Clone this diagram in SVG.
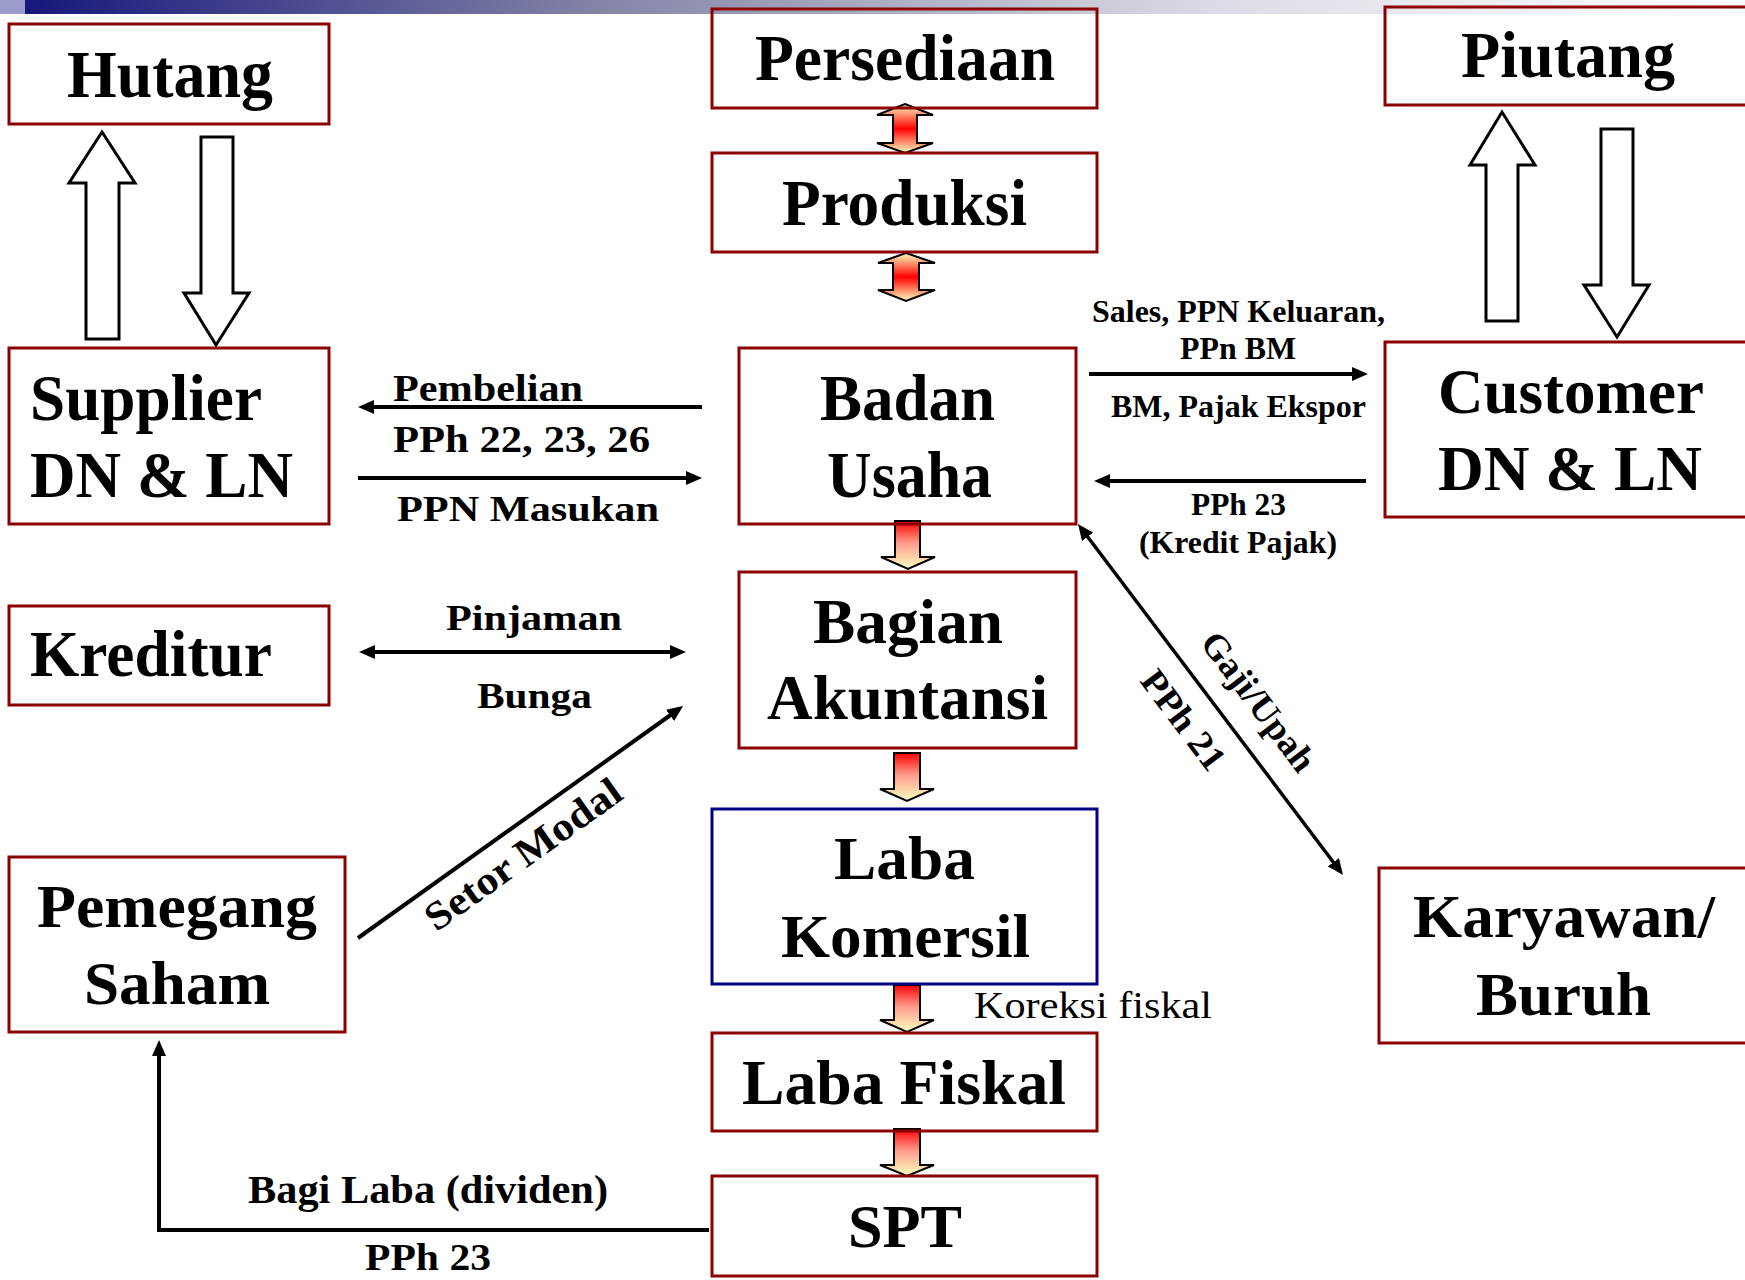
<svg xmlns="http://www.w3.org/2000/svg" width="1745" height="1280" viewBox="0 0 1745 1280">
  <style>
    .box { fill: none; stroke: #8b0000; stroke-width: 3; }
    .box.blue { stroke: #000080; }
    .t { font-family: "Liberation Serif", "Times New Roman", serif; font-weight: bold; fill: #000; }
    .big { font-size: 65px; }
    .lbl { font-size: 36px; }
    .sm { font-size: 32px; }
    .reg { font-weight: normal; }
    .mid { text-anchor: middle; }
    .line { fill: none; stroke: #000; stroke-width: 4; }
    .fat { stroke: #000; stroke-width: 2; stroke-linejoin: miter; }
    .hollow { fill: #fff; stroke: #000; stroke-width: 3; }
  </style>
  <defs>
    <linearGradient id="topbar" x1="0" y1="0" x2="1" y2="0">
      <stop offset="0" stop-color="#12127a"/>
      <stop offset="0.35" stop-color="#8686a8"/>
      <stop offset="0.7" stop-color="#dcdce6"/>
      <stop offset="1" stop-color="#ffffff"/>
    </linearGradient>
    <!-- fill for one-way fat arrows: red at the tail, cream at the head -->
    <linearGradient id="downFill" x1="0" y1="0" x2="0" y2="1">
      <stop offset="0" stop-color="#ff0000"/>
      <stop offset="0.45" stop-color="#ff9a8a"/>
      <stop offset="1" stop-color="#ffffc0"/>
    </linearGradient>
    <!-- fill for two-way fat arrows: cream at both heads, red in the middle -->
    <linearGradient id="bothFill" x1="0" y1="0" x2="0" y2="1">
      <stop offset="0" stop-color="#ffffc0"/>
      <stop offset="0.5" stop-color="#ff0000"/>
      <stop offset="1" stop-color="#ffffc0"/>
    </linearGradient>
    <marker id="head" viewBox="0 0 16 14" refX="11" refY="7" markerWidth="16" markerHeight="14" markerUnits="userSpaceOnUse" orient="auto-start-reverse">
      <path d="M0,0 L16,7 L0,14 Z" fill="#000"/>
    </marker>
  </defs>

  <!-- title bar -->
  <rect x="0" y="0" width="1745" height="14" fill="url(#topbar)"/>
  <rect x="0" y="0" width="25" height="14" fill="#9c9ccc"/>

  <!-- connectors -->
  <g id="connectors">
    <!-- fat arrows along the central column -->
    <path class="fat" fill="url(#bothFill)" d="M905,104 L933,115 L917,115 L917,143 L933,143 L905,153 L877,143 L893,143 L893,115 L877,115 Z"/>
    <path class="fat" fill="url(#bothFill)" d="M906,253 L935,263 L919,263 L919,290 L935,290 L906,301 L878,290 L893,290 L893,263 L878,263 Z"/>
    <path class="fat" fill="url(#downFill)" d="M895,521 L920,521 L920,557 L935,557 L908,569 L881,557 L895,557 Z"/>
    <path class="fat" fill="url(#downFill)" d="M894,753 L920,753 L920,789 L934,789 L907,801 L880,789 L894,789 Z"/>
    <path class="fat" fill="url(#downFill)" d="M894,985 L920,985 L920,1020 L934,1020 L907,1032 L880,1020 L894,1020 Z"/>
    <path class="fat" fill="url(#downFill)" d="M894,1129 L920,1129 L920,1165 L934,1165 L907,1176 L880,1165 L894,1165 Z"/>

    <!-- hollow arrows: Hutang / Supplier -->
    <path class="hollow" d="M86,339 L86,183 L69,183 L102,132 L135,183 L119,183 L119,339 Z"/>
    <path class="hollow" d="M201,137 L233,137 L233,293 L249,293 L216,345 L184,293 L201,293 Z"/>
    <!-- hollow arrows: Piutang / Customer -->
    <path class="hollow" d="M1486,321 L1486,165 L1470,165 L1502,112 L1535,165 L1518,165 L1518,321 Z"/>
    <path class="hollow" d="M1601,129 L1633,129 L1633,285 L1649,285 L1617,337 L1584,285 L1601,285 Z"/>

    <!-- Supplier flows -->
    <line class="line" x1="702" y1="407" x2="363" y2="407" marker-end="url(#head)"/>
    <line class="line" x1="358" y1="478" x2="697" y2="478" marker-end="url(#head)"/>
    <!-- Kreditur flow -->
    <line class="line" x1="364" y1="652" x2="681" y2="652" marker-start="url(#head)" marker-end="url(#head)"/>
    <!-- Customer flows -->
    <line class="line" x1="1089" y1="374" x2="1363" y2="374" marker-end="url(#head)"/>
    <line class="line" x1="1366" y1="481" x2="1099" y2="481" marker-end="url(#head)"/>
    <!-- Karyawan flow -->
    <line class="line" style="stroke-width:3.5" x1="1081" y1="528" x2="1340" y2="871" marker-start="url(#head)" marker-end="url(#head)"/>
    <!-- Pemegang Saham flows -->
    <line class="line" x1="358" y1="938" x2="679" y2="709" marker-end="url(#head)"/>
    <path class="line" d="M709,1230 H159 V1045" marker-end="url(#head)"/>

    <!-- flow labels -->
    <text class="t lbl" style="font-size:38px" x="393" y="401" textLength="190" lengthAdjust="spacingAndGlyphs">Pembelian</text>
    <text class="t lbl" style="font-size:38px" x="393" y="452" textLength="257" lengthAdjust="spacingAndGlyphs">PPh 22, 23, 26</text>
    <text class="t lbl" x="397" y="521" textLength="262" lengthAdjust="spacingAndGlyphs">PPN Masukan</text>
    <text class="t lbl mid" x="534" y="630" textLength="176" lengthAdjust="spacingAndGlyphs">Pinjaman</text>
    <text class="t lbl mid" x="534.5" y="708" textLength="115" lengthAdjust="spacingAndGlyphs">Bunga</text>
    <text class="t sm" x="1092" y="322" textLength="293" lengthAdjust="spacingAndGlyphs">Sales, PPN Keluaran,</text>
    <text class="t sm mid" x="1238" y="359" textLength="116" lengthAdjust="spacingAndGlyphs">PPn BM</text>
    <text class="t sm mid" x="1238.5" y="417" textLength="255" lengthAdjust="spacingAndGlyphs">BM, Pajak Ekspor</text>
    <text class="t sm mid" x="1238.5" y="515" textLength="95" lengthAdjust="spacingAndGlyphs">PPh 23</text>
    <text class="t sm mid" x="1238" y="553" textLength="198" lengthAdjust="spacingAndGlyphs">(Kredit Pajak)</text>
    <g transform="translate(1078,524) rotate(52.94)">
      <text class="t lbl" x="168" y="-25" textLength="165" lengthAdjust="spacingAndGlyphs">Gaji/Upah</text>
      <text class="t lbl" x="162" y="46" textLength="116" lengthAdjust="spacingAndGlyphs">PPh 21</text>
    </g>
    <g transform="translate(358,938) rotate(-35.5)">
      <text class="t lbl" style="font-size:40px" x="67" y="41" textLength="232" lengthAdjust="spacingAndGlyphs">Setor Modal</text>
    </g>
    <text class="t lbl" style="font-size:39px" x="248" y="1203" textLength="360" lengthAdjust="spacingAndGlyphs">Bagi Laba (dividen)</text>
    <text class="t lbl" style="font-size:37px" x="365" y="1270" textLength="126" lengthAdjust="spacingAndGlyphs">PPh 23</text>
    <text class="t reg" style="font-size:38px" x="974" y="1018" textLength="238" lengthAdjust="spacingAndGlyphs">Koreksi fiskal</text>
  </g>

  <!-- nodes -->
  <g id="hutang">
    <rect class="box" x="9" y="24" width="320" height="100"/>
    <text class="t mid" style="font-size:68px" x="170" y="97" textLength="206" lengthAdjust="spacingAndGlyphs">Hutang</text>
  </g>
  <g id="persediaan">
    <rect class="box" x="712" y="9" width="385" height="99"/>
    <text class="t big mid" x="905" y="80" textLength="300" lengthAdjust="spacingAndGlyphs">Persediaan</text>
  </g>
  <g id="piutang">
    <rect class="box" x="1385" y="7" width="370" height="98"/>
    <text class="t mid" style="font-size:66px" x="1568" y="77" textLength="214" lengthAdjust="spacingAndGlyphs">Piutang</text>
  </g>
  <g id="produksi">
    <rect class="box" x="712" y="153" width="385" height="99"/>
    <text class="t mid" style="font-size:66px" x="904.5" y="225" textLength="245" lengthAdjust="spacingAndGlyphs">Produksi</text>
  </g>
  <g id="supplier">
    <rect class="box" x="9" y="348" width="320" height="176"/>
    <text class="t" style="font-size:66px" x="30" y="420" textLength="232" lengthAdjust="spacingAndGlyphs">Supplier</text>
    <text class="t" style="font-size:66px" x="30" y="497" textLength="263" lengthAdjust="spacingAndGlyphs">DN &amp; LN</text>
  </g>
  <g id="badan-usaha">
    <rect class="box" x="739" y="348" width="337" height="176"/>
    <text class="t big mid" x="907.5" y="420" textLength="175" lengthAdjust="spacingAndGlyphs">Badan</text>
    <text class="t big mid" x="909.5" y="497" textLength="165" lengthAdjust="spacingAndGlyphs">Usaha</text>
  </g>
  <g id="customer">
    <rect class="box" x="1385" y="342" width="370" height="175"/>
    <text class="t" style="font-size:64px" x="1438" y="413" textLength="266" lengthAdjust="spacingAndGlyphs">Customer</text>
    <text class="t" style="font-size:64px" x="1438" y="490" textLength="264" lengthAdjust="spacingAndGlyphs">DN &amp; LN</text>
  </g>
  <g id="kreditur">
    <rect class="box" x="9" y="606" width="320" height="99"/>
    <text class="t big" x="30" y="676" textLength="242" lengthAdjust="spacingAndGlyphs">Kreditur</text>
  </g>
  <g id="bagian-akuntansi">
    <rect class="box" x="739" y="572" width="337" height="176"/>
    <text class="t mid" style="font-size:64px" x="908" y="643" textLength="190" lengthAdjust="spacingAndGlyphs">Bagian</text>
    <text class="t mid" style="font-size:64px" x="907.5" y="719" textLength="281" lengthAdjust="spacingAndGlyphs">Akuntansi</text>
  </g>
  <g id="laba-komersil">
    <rect class="box blue" x="712" y="809" width="385" height="175"/>
    <text class="t mid" style="font-size:62px" x="904.5" y="879" textLength="141" lengthAdjust="spacingAndGlyphs">Laba</text>
    <text class="t mid" style="font-size:62px" x="905.5" y="957" textLength="249" lengthAdjust="spacingAndGlyphs">Komersil</text>
  </g>
  <g id="pemegang-saham">
    <rect class="box" x="9" y="857" width="336" height="175"/>
    <text class="t mid" style="font-size:62px" x="177" y="927" textLength="280" lengthAdjust="spacingAndGlyphs">Pemegang</text>
    <text class="t mid" style="font-size:62px" x="177" y="1004" textLength="186" lengthAdjust="spacingAndGlyphs">Saham</text>
  </g>
  <g id="karyawan">
    <rect class="box" x="1379" y="868" width="376" height="175"/>
    <text class="t" style="font-size:62px" x="1413" y="937" textLength="302" lengthAdjust="spacingAndGlyphs">Karyawan/</text>
    <text class="t mid" style="font-size:62px" x="1563.5" y="1015" textLength="175" lengthAdjust="spacingAndGlyphs">Buruh</text>
  </g>
  <g id="laba-fiskal">
    <rect class="box" x="712" y="1033" width="385" height="98"/>
    <text class="t mid" style="font-size:64px" x="904" y="1104" textLength="324" lengthAdjust="spacingAndGlyphs">Laba Fiskal</text>
  </g>
  <g id="spt">
    <rect class="box" x="712" y="1176" width="385" height="100"/>
    <text class="t mid" style="font-size:62px" x="905" y="1247" textLength="114" lengthAdjust="spacingAndGlyphs">SPT</text>
  </g>
</svg>
